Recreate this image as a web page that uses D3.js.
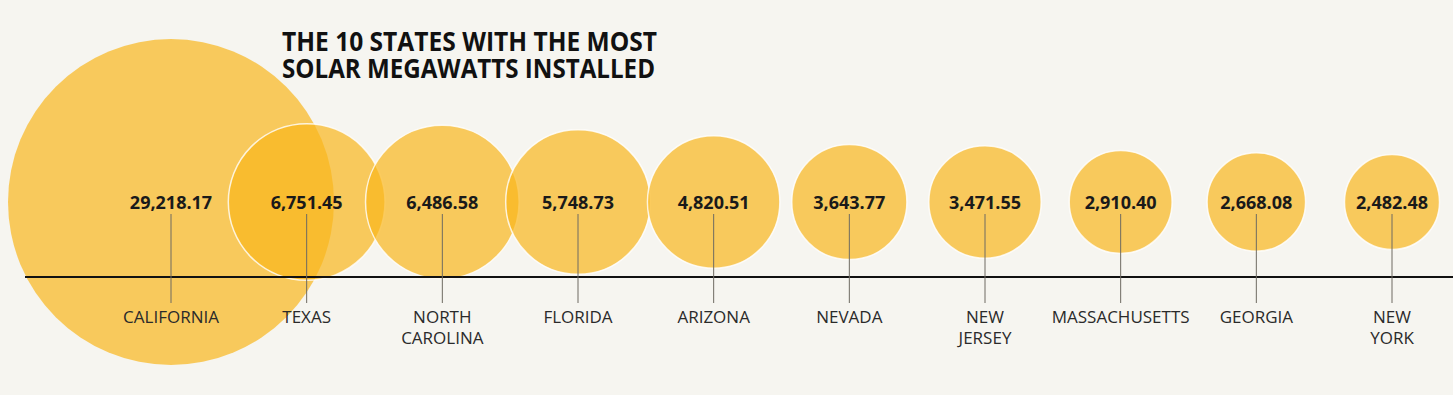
<!DOCTYPE html>
<html>
<head>
<meta charset="utf-8">
<script src="https://cdn.jsdelivr.net/npm/d3@7"></script>
<style>
  html, body { margin: 0; padding: 0; background: #f6f5f0; }
  svg { display: block; }
</style>
</head>
<body>
<div id="chart"></div>
<script>
// Top 10 states by installed solar capacity (MW)
const states = ["CALIFORNIA", "TEXAS", "NORTH CAROLINA", "FLORIDA", "ARIZONA",
                "NEVADA", "NEW JERSEY", "MASSACHUSETTS", "GEORGIA", "NEW YORK"];
const labelLines = [["CALIFORNIA"], ["TEXAS"], ["NORTH", "CAROLINA"], ["FLORIDA"], ["ARIZONA"],
                    ["NEVADA"], ["NEW", "JERSEY"], ["MASSACHUSETTS"], ["GEORGIA"], ["NEW", "YORK"]];
const megawatts = [29218.17, 6751.45, 6486.58, 5748.73, 4820.51,
                   3643.77, 3471.55, 2910.40, 2668.08, 2482.48];
const titleLines = ["THE 10 STATES WITH THE MOST", "SOLAR MEGAWATTS INSTALLED"];

const width = 1453, height = 395;
const cy = 202;          // circle centre line
const baseY = 277;       // horizontal rule

const data = states.map((s, i) => ({ state: s, lines: labelLines[i], value: megawatts[i] }));

const svg = d3.select("#chart").append("svg")
    .attr("width", width)
    .attr("height", height);

const x = d3.scalePoint()
    .domain(states)
    .range([171, 1392]);

const r = d3.scaleSqrt()
    .domain([0, d3.max(megawatts)])
    .range([0, 163]);

const fmt = d3.format(",.2f");

// circles
svg.append("g")
  .selectAll("circle")
  .data(data)
  .join("circle")
    .attr("cx", d => x(d.state))
    .attr("cy", cy)
    .attr("r", d => r(d.value))
    .attr("fill", "#f9b61c")
    .attr("fill-opacity", 0.7)
    .attr("stroke", (d, i) => i === 0 ? "none" : "#ffffff")
    .attr("stroke-opacity", 0.8)
    .attr("stroke-width", 1.5);

// baseline
svg.append("line")
    .attr("x1", 25)
    .attr("x2", width)
    .attr("y1", baseY)
    .attr("y2", baseY)
    .attr("stroke", "#111")
    .attr("stroke-width", 2);

// leader lines
svg.append("g")
  .selectAll("line")
  .data(data)
  .join("line")
    .attr("x1", d => x(d.state))
    .attr("x2", d => x(d.state))
    .attr("y1", 214)
    .attr("y2", 303)
    .attr("stroke", "#6e6a62")
    .attr("stroke-width", 1);

// values
svg.append("g")
  .selectAll("text")
  .data(data)
  .join("text")
    .attr("x", d => x(d.state))
    .attr("y", 209)
    .attr("text-anchor", "middle")
    .attr("font-family", "'Open Sans', sans-serif")
    .attr("font-weight", 700)
    .attr("font-size", 18)
    .attr("fill", "#1a1a1a")
    .text(d => fmt(d.value));

// state names
const names = svg.append("g")
  .selectAll("text")
  .data(data)
  .join("text")
    .attr("x", d => x(d.state))
    .attr("y", 323)
    .attr("text-anchor", "middle")
    .attr("font-family", "'Open Sans', sans-serif")
    .attr("font-size", 17)
    .attr("fill", "#2a2a2a");

names.selectAll("tspan")
  .data(d => d.lines.map(l => ({ l, cx: x(d.state) })))
  .join("tspan")
    .attr("x", t => t.cx)
    .attr("dy", (t, i) => i === 0 ? 0 : 21)
    .text(t => t.l);

// title
svg.append("g")
  .selectAll("text")
  .data(titleLines)
  .join("text")
    .attr("x", 282)
    .attr("y", (d, i) => 51 + i * 27)
    .attr("font-family", "'Open Sans', sans-serif")
    .attr("font-weight", 700)
    .attr("font-size", 26)
    .attr("fill", "#111")
    .attr("textLength", (d, i) => i === 0 ? 375 : 373)
    .attr("lengthAdjust", "spacingAndGlyphs")
    .text(d => d);
</script>
</body>
</html>
